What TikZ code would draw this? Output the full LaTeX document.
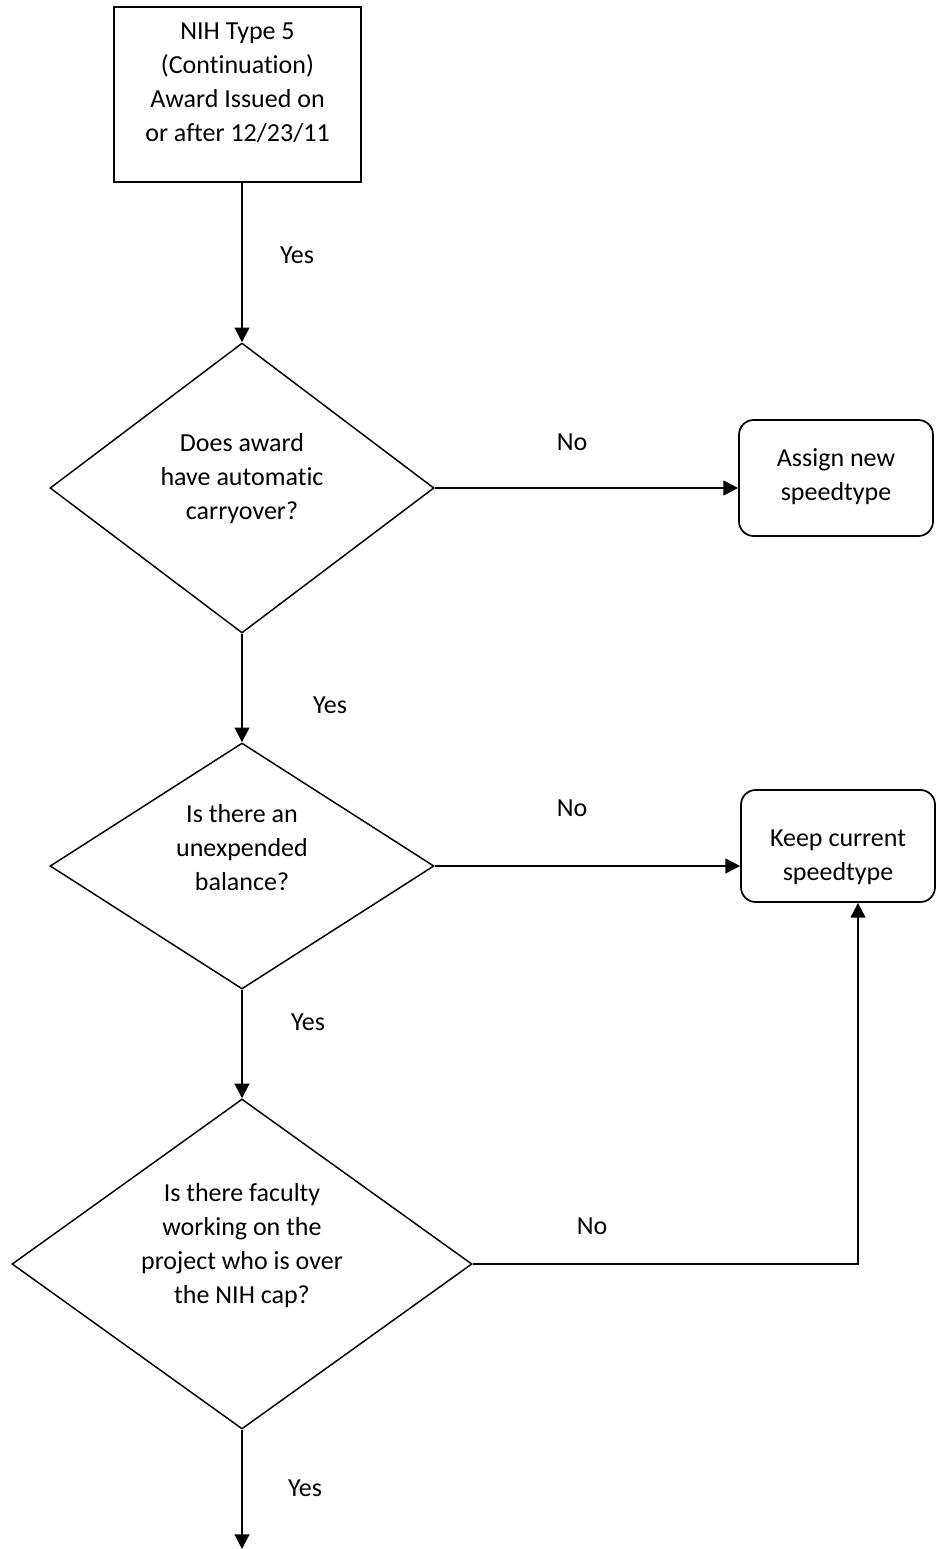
\documentclass[tikz,border=0pt]{standalone}
\usepackage{fontspec}
\setmainfont{Carlito}[Ligatures={NoCommon}]
\usetikzlibrary{shapes.geometric,arrows.meta}
\begin{document}
\begin{tikzpicture}[x=0.75pt,y=-0.75pt,
  txt/.style={align=center,inner sep=0pt,font=\fontsize{19.5}{25.5}\selectfont},
  lbl/.style={inner sep=0pt,font=\fontsize{19.5}{25.5}\selectfont},
  sqbox/.style={draw,line width=1.5pt,minimum width=247*0.75pt,minimum height=175*0.75pt,inner sep=0pt},
  rbox/.style={draw,line width=1.3pt,rounded corners=11pt,minimum width=194*0.75pt,inner sep=0pt},
  dia/.style={draw,diamond,line width=1.1pt,inner sep=0pt},
  arr/.style={line width=1.5pt,-{Triangle[length=11pt,width=11pt]}},
  ln/.style={line width=1.5pt}]
\useasboundingbox (0,0) rectangle (943,1549);
% start box
\node[sqbox] (start) at (237.5,94.5) {};
\node[txt] (starttxt) at (237.5,83) {NIH Type 5\\(Continuation)\\Award Issued on\\or after 12/23/11};
% diamonds
\node[dia,minimum width=384*0.75pt,minimum height=290*0.75pt] (d1) at (242,488) {};
\node[txt] (d1txt) at (242,479) {Does award\\have automatic\\carryover?};
\node[dia,minimum width=384*0.75pt,minimum height=246*0.75pt] (d2) at (242,866) {};
\node[txt] (d2txt) at (242,848) {Is there an\\unexpended\\balance?};
\node[dia,minimum width=460*0.75pt,minimum height=330*0.75pt] (d3) at (242,1264) {};
\node[txt] (d3txt) at (242,1246) {Is there faculty\\working on the\\project who is over\\the NIH cap?};
% outcome boxes
\node[rbox,minimum height=116*0.75pt] (assign) at (836,478) {};
\node[txt] (assigntxt) at (836,477) {Assign new\\speedtype};
\node[rbox,minimum height=112*0.75pt] (keep) at (838,846) {};
\node[txt] (keeptxt) at (838,857) {Keep current\\speedtype};
\coordinate (kx) at (858,0);
\coordinate (endpt) at (242,1549);
% connectors
\draw[arr] (start.south -| d1.north) -- (d1.north);
\draw[arr] (d1.east) -- (d1.east -| assign.west);
\draw[arr] (d1.south) -- (d2.north);
\draw[arr] (d2.east) -- (d2.east -| keep.west);
\draw[arr] (d2.south) -- (d3.north);
\draw[arr] (d3.east) -| (kx |- keep.south);
\draw[arr] (d3.south) -- (endpt);
% labels
\node[lbl] (y1) at (297,255) {Yes};
\node[lbl] (n1) at (572,442) {No};
\node[lbl] (y2) at (330,705) {Yes};
\node[lbl] (n2) at (572,808) {No};
\node[lbl] (y3) at (308,1022) {Yes};
\node[lbl] (n3) at (592,1226) {No};
\node[lbl] (y4) at (305,1488) {Yes};
\end{tikzpicture}
\end{document}
